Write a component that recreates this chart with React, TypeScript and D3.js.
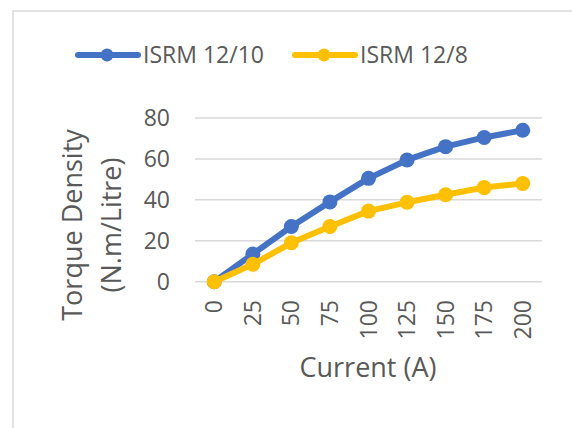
import React from "react";
import * as d3 from "d3";

const currents = ["0", "25", "50", "75", "100", "125", "150", "175", "200"];
const isrm1210 = [0, 13.5, 27, 39, 50.5, 59.5, 66, 70.5, 74];
const isrm128 = [0, 8.5, 19, 27, 34.5, 38.8, 42.5, 46, 48];
const yTicks = [0, 20, 40, 60, 80];
const seriesNames = ["ISRM 12/10", "ISRM 12/8"];
const seriesColors = ["#4472C4", "#FFC000"];

const W = 572;
const H = 428;
const FONT = "'Open Sans', 'Noto Sans', sans-serif";
const TEXT = "#595959";

export default function App() {
  const x = d3.scaleBand<string>().domain(currents).range([195, 542]);
  const y = d3.scaleLinear().domain([0, 80]).range([281.7, 118]);
  const cx = (c: string) => (x(c) ?? 0) + x.bandwidth() / 2;
  const line = d3
    .line<number>()
    .x((_, i) => cx(currents[i]))
    .y((d) => y(d));
  const series = [isrm1210, isrm128];

  return (
    <svg
      width={W}
      height={H}
      style={{ position: "absolute", left: 0, top: 0, background: "#fff" }}
      fontFamily={FONT}
    >
      <rect x={0} y={0} width={W} height={H} fill="#fff" />
      <rect x={13} y={11} width={W} height={H} fill="none" stroke="#d9d9d9" strokeWidth={1.5} />

      {/* legend */}
      {seriesNames.map((name, i) => {
        const lx = i === 0 ? 78 : 295;
        return (
          <g key={name}>
            <line x1={lx} x2={lx + 60} y1={55} y2={55} stroke={seriesColors[i]} strokeWidth={6} strokeLinecap="round" />
            <circle cx={lx + 29} cy={55} r={6.5} fill={seriesColors[i]} />
            <text x={lx + 65} y={63} fontSize={23} fill={TEXT}>
              {name}
            </text>
          </g>
        );
      })}

      {/* gridlines */}
      {yTicks.map((t) => (
        <line key={t} x1={195} x2={542} y1={y(t)} y2={y(t)} stroke="#d9d9d9" strokeWidth={1.5} />
      ))}

      {/* y tick labels */}
      {yTicks.map((t) => (
        <text key={t} x={170} y={y(t)} dy="0.35em" textAnchor="end" fontSize={23} fill={TEXT}>
          {t}
        </text>
      ))}

      {/* x tick labels */}
      {currents.map((c) => (
        <text
          key={c}
          transform={`translate(${cx(c) + 8},300) rotate(-90)`}
          textAnchor="end"
          fontSize={23}
          fill={TEXT}
        >
          {c}
        </text>
      ))}

      {/* axis titles */}
      <text x={368} y={377} textAnchor="middle" fontSize={27} fill={TEXT}>
        Current (A)
      </text>
      <g transform="translate(0,225) rotate(-90)">
        <text x={0} y={82} textAnchor="middle" fontSize={27} fill={TEXT}>
          Torque Density
        </text>
        <text x={0} y={121} textAnchor="middle" fontSize={27} fill={TEXT}>
          (N.m/Litre)
        </text>
      </g>

      {/* series */}
      {series.map((s, i) => (
        <g key={i}>
          <path d={line(s) ?? ""} fill="none" stroke={seriesColors[i]} strokeWidth={6} strokeLinejoin="round" />
          {s.map((v, j) => (
            <circle key={j} cx={cx(currents[j])} cy={y(v)} r={7.5} fill={seriesColors[i]} />
          ))}
        </g>
      ))}
    </svg>
  );
}
